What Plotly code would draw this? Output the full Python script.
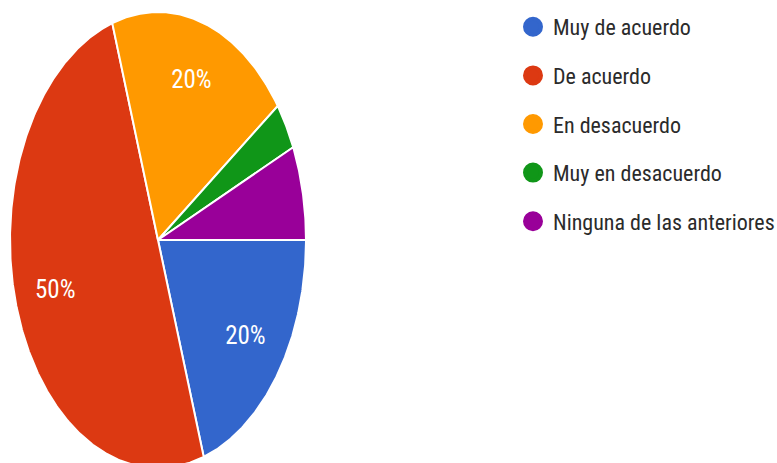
import numpy as np
import plotly.graph_objects as go

# Survey answers (30 respondents)
categories = [
    "Muy de acuerdo",
    "De acuerdo",
    "En desacuerdo",
    "Muy en desacuerdo",
    "Ninguna de las anteriores",
]
counts = [6, 15, 6, 1, 2]
colors = ["#3366CC", "#DC3912", "#FF9900", "#109618", "#990099"]

W, H = 777, 463
# pie geometry in pixels (drawn as an ellipse: stretched vertically)
CX, CY, RX, RY = 158, 240, 148, 228
LABEL_R = 0.73
FONT = "Roboto Condensed, Roboto, Liberation Sans, Arial, sans-serif"

total = sum(counts)
fig = go.Figure()

lx, ly, lt = [], [], []
start = 0.0
for cat, n, col in zip(categories, counts, colors):
    frac = n / total
    t = np.linspace(start, start + frac, max(int(frac * 720), 4)) * 2 * np.pi
    # clockwise from 3 o'clock
    xs = np.concatenate([[0], np.cos(t), [0]])
    ys = np.concatenate([[0], -np.sin(t), [0]])
    fig.add_trace(go.Scatter(
        x=xs, y=ys, mode="lines", fill="toself", fillcolor=col,
        line=dict(color="white", width=2), showlegend=False, hoverinfo="skip",
    ))
    if frac >= 0.1:
        m = (start + frac / 2) * 2 * np.pi
        lx.append(LABEL_R * np.cos(m))
        ly.append(-LABEL_R * np.sin(m))
        lt.append(f"{round(frac * 100)}%")
    start += frac

fig.add_trace(go.Scatter(
    x=lx, y=ly, mode="text", text=lt, textposition="middle center",
    textfont=dict(color="white", size=25, family=FONT),
    showlegend=False, hoverinfo="skip",
))

# legend entries
for cat, col in zip(categories, colors):
    fig.add_trace(go.Scatter(
        x=[None], y=[None], mode="markers", name=cat, legendgroup=cat,
        marker=dict(color=col, size=16, symbol="circle", line=dict(color=col, width=4)),
    ))

x0 = -CX / RX
x1 = x0 + W / RX
y1 = CY / RY
y0 = -(H - CY) / RY

fig.update_layout(
    width=W, height=H,
    margin=dict(l=0, r=0, t=0, b=0, autoexpand=False),
    paper_bgcolor="white", plot_bgcolor="white",
    xaxis=dict(range=[x0, x1], visible=False, fixedrange=True),
    yaxis=dict(range=[y0, y1], visible=False, fixedrange=True),
    legend=dict(
        x=513 / W, y=1 - 6 / H, xanchor="left", yanchor="top",
        font=dict(size=22, color="#2b2b2b", family=FONT),
        tracegroupgap=17, bgcolor="rgba(0,0,0,0)",
    ),
    showlegend=True,
)

fig.write_html("out.html")
